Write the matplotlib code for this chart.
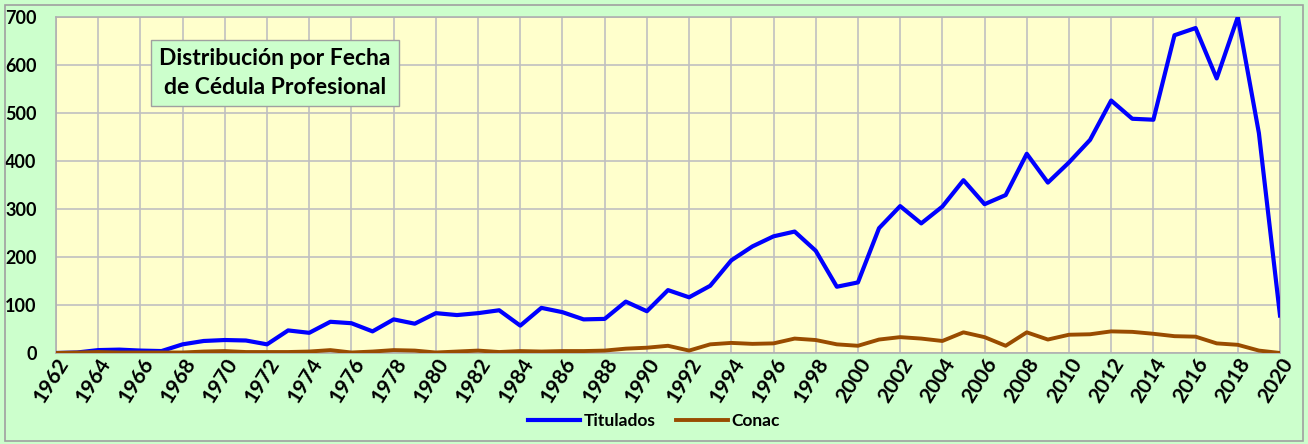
import matplotlib.pyplot as plt
from matplotlib.patches import Rectangle

years = list(range(1962, 2021))
titulados = [0, 1, 6, 7, 5, 4, 18, 25, 27, 26, 18, 47, 42, 65, 62, 45, 70, 61, 83, 79,
             83, 89, 57, 94, 85, 70, 71, 107, 87, 131, 116, 140, 193, 222, 243, 253, 213, 138, 147, 260,
             306, 270, 305, 360, 310, 329, 415, 355, 397, 444, 526, 488, 486, 662, 677, 572, 700, 458, 78]
conac = [0, 1, 2, 1, 1, 1, 1, 3, 4, 2, 2, 2, 3, 6, 1, 3, 6, 5, 1, 3,
         5, 2, 4, 3, 4, 4, 5, 9, 11, 15, 5, 18, 21, 19, 20, 30, 27, 18, 15, 28,
         33, 30, 25, 43, 33, 15, 43, 28, 38, 39, 45, 44, 40, 35, 34, 20, 17, 5, 0]
yticks = [0, 100, 200, 300, 400, 500, 600, 700]

plt.rcParams['font.family'] = ['Lato', 'DejaVu Sans']
plt.rcParams['font.weight'] = 'bold'

fig = plt.figure(figsize=(13.08, 4.44), dpi=100, facecolor='#CCFFCC')
fig.patches.append(Rectangle((0.004, 0.006), 0.992, 0.982, transform=fig.transFigure,
                             fill=False, edgecolor='#A0A0A0', linewidth=1.2))
ax = fig.add_axes([0.0428, 0.205, 0.9358, 0.7567])
ax.set_facecolor('#FFFFCC')

ax.plot(years, titulados, color='#0000FF', linewidth=3, label='Titulados', zorder=3)
ax.plot(years, conac, color='#994C00', linewidth=2.8, label='Conac', zorder=3)

ax.set_xlim(1962, 2020)
ax.set_ylim(0, 700)
ax.set_xticks(range(1962, 2021, 2))
ax.set_yticks(yticks)
ax.tick_params(axis='x', length=0, pad=1)
ax.tick_params(axis='y', length=0, pad=14)
for lab in ax.get_xticklabels():
    lab.set_fontsize(15)
    lab.set_fontweight('bold')
    lab.set_rotation(58)
    lab.set_ha('right')
    lab.set_va('top')
    lab.set_rotation_mode('anchor')
for lab in ax.get_yticklabels():
    lab.set_fontsize(13)
    lab.set_fontweight('bold')
ax.grid(True, color='#C0C0C0', linewidth=1.2, zorder=0)
ax.set_axisbelow(True)
for s in ax.spines.values():
    s.set_color('#B0B0B0')
    s.set_linewidth(1.2)

ax.text(0.179, 0.833, 'Distribución por Fecha\nde Cédula Profesional', transform=ax.transAxes,
        fontsize=16.5, fontweight='bold', ha='center', va='center', linespacing=1.45,
        bbox=dict(boxstyle='square,pad=0.35', facecolor='#CCFFCC', edgecolor='#A0A0A0'))

fig.legend(loc='center', bbox_to_anchor=(0.5, 0.052), ncol=2, frameon=False,
           prop={'weight': 'bold', 'size': 12.5}, handlelength=3.0, columnspacing=1.2,
           handletextpad=0.2)

fig.savefig('out.png', dpi=100, facecolor=fig.get_facecolor())
